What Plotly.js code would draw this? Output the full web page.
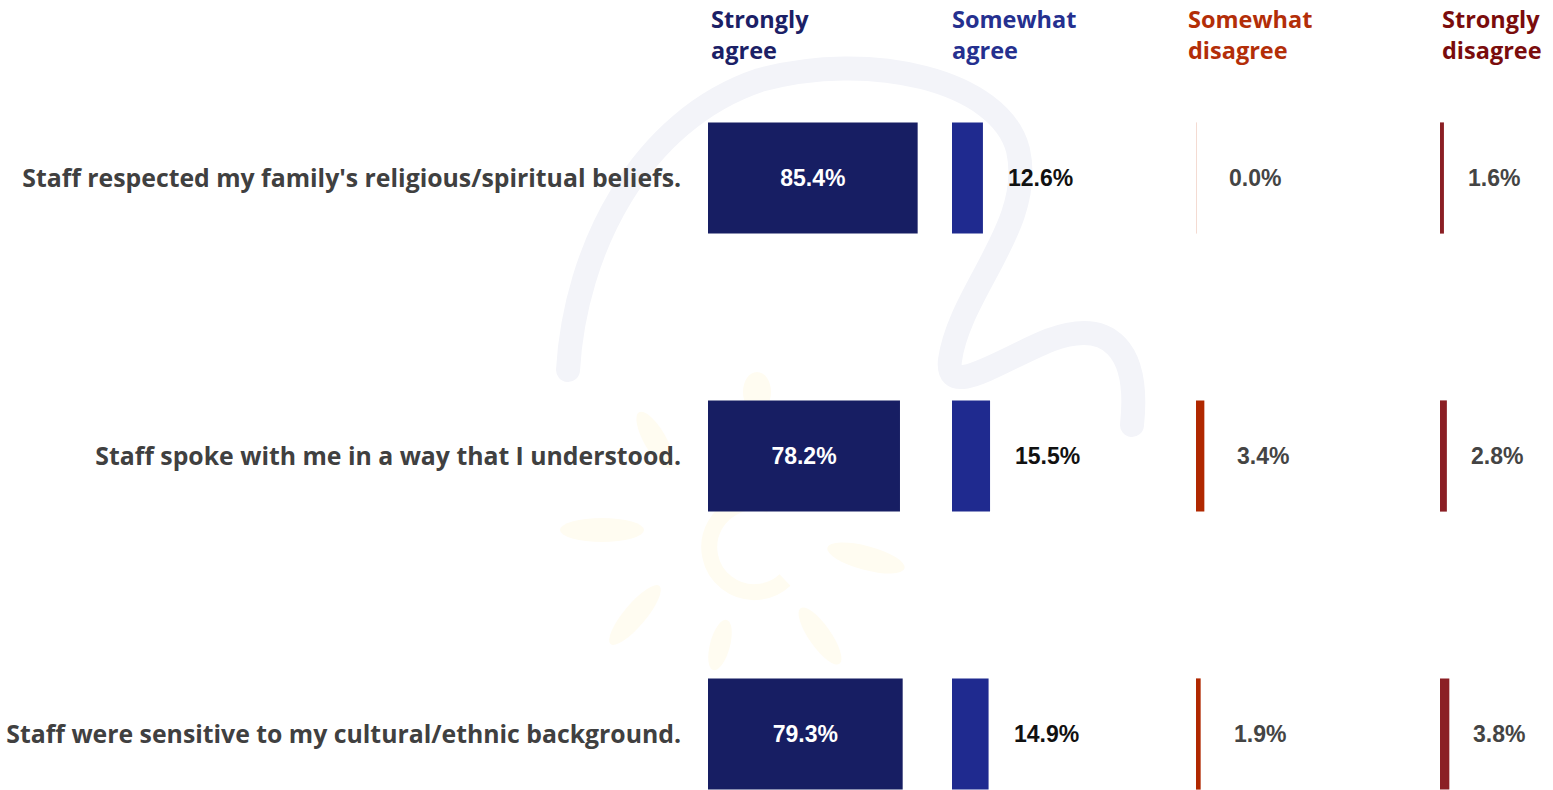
<!DOCTYPE html>
<html>
<head>
<meta charset="utf-8">
<script src="https://cdn.plot.ly/plotly-3.0.1.min.js"></script>
<style>html,body{margin:0;padding:0;background:#fff;}#chart{width:1553px;height:790px;}</style>
</head>
<body>
<div id="chart"></div>
<script>
// ---- data ----
const categories = [
  "Staff respected my family's religious/spiritual beliefs.",
  "Staff spoke with me in a way that I understood.",
  "Staff were sensitive to my cultural/ethnic background."
];
const responseLabels = ["Strongly<br>agree", "Somewhat<br>agree", "Somewhat<br>disagree", "Strongly<br>disagree"];
const stronglyAgree    = [85.4, 78.2, 79.3];
const somewhatAgree    = [12.6, 15.5, 14.9];
const somewhatDisagree = [0.0, 3.4, 1.9];
const stronglyDisagree = [1.6, 2.8, 3.8];

// ---- styling ----
const series = [stronglyAgree, somewhatAgree, somewhatDisagree, stronglyDisagree];
const barColors = ["#171e63", "#1f2a8f", "#b02800", "#8b1f24"];
const headColors = ["#1b2066", "#25308f", "#b32e08", "#7a0c0c"];
const labelColors = ["#ffffff", "#111111", "#444444", "#444444"];
const labelShift = [0, 23, 31, 22];
const headShift = [1, -2, -10, 0];

const W = 1553, H = 790, L = 708, T = 80;
const plotW = W - L, plotH = H - T;
const pxPerUnit = 2.455;
const colPx = 244;
const axNames = ["x", "x2", "x3", "x4"];
const valueFont = {family: "Liberation Sans, Arial, sans-serif", size: 23, weight: "bold"};

const traces = [];
const annotations = [];
const shapes = [];
const layout = {
  width: W, height: H,
  margin: {l: L, r: 0, t: T, b: 0, pad: 0},
  paper_bgcolor: "#ffffff", plot_bgcolor: "rgba(0,0,0,0)",
  showlegend: false,
  font: {family: "Liberation Sans, Arial, sans-serif"},
  yaxis: {
    type: "category", categoryorder: "array", categoryarray: categories,
    range: [2 + (H - 734) / 278, -(178 - T) / 278],
    showgrid: false, zeroline: false, showline: false,
    ticks: "outside", ticklen: 21, tickcolor: "rgba(0,0,0,0)",
    tickfont: {family: "Open Sans, Noto Sans, sans-serif", size: 24.8, color: "#404040", weight: "bold"},
    anchor: "x", fixedrange: true
  },
  annotations, shapes,
  images: []
};

series.forEach((vals, c) => {
  const ax = axNames[c];
  const x0 = c * colPx / plotW;
  const x1 = Math.min(1, (c + 1) * colPx / plotW);
  const key = c === 0 ? "xaxis" : "xaxis" + (c + 1);
  layout[key] = {
    domain: [x0, x1],
    range: [0, (x1 - x0) * plotW / pxPerUnit],
    showgrid: false, zeroline: false, showline: false, showticklabels: false, ticks: "",
    anchor: "y", fixedrange: true
  };
  traces.push({
    type: "bar", orientation: "h",
    x: vals, y: categories,
    xaxis: ax, yaxis: "y",
    width: 0.4,
    marker: {color: barColors[c], line: {width: 0}},
    text: c === 0 ? vals.map(v => v.toFixed(1) + "%") : undefined,
    textposition: c === 0 ? "inside" : "none",
    insidetextanchor: "middle",
    constraintext: "none",
    textfont: Object.assign({color: "#ffffff"}, valueFont),
    hoverinfo: "skip"
  });
  // column header
  annotations.push({
    xref: ax, yref: "paper", x: 0, y: 1 + (T - 34) / plotH,
    xanchor: "left", yanchor: "middle", xshift: headShift[c], align: "left",
    text: responseLabels[c], showarrow: false,
    font: {family: "Open Sans, Noto Sans, sans-serif", size: 23.5, color: headColors[c], weight: "bold"}
  });
  if (c > 0) {
    vals.forEach((v, i) => {
      annotations.push({
        xref: ax, yref: "y", x: v, y: categories[i],
        xanchor: "left", yanchor: "middle", xshift: labelShift[c],
        text: v.toFixed(1) + "%", showarrow: false,
        font: Object.assign({color: labelColors[c]}, valueFont)
      });
      if (v === 0) {
        shapes.push({
          type: "line", xref: ax, yref: "y",
          x0: v, x1: v, y0: i - 0.2, y1: i + 0.2,
          line: {color: "#e9b8a6", width: 1}
        });
      }
    });
  }
});

// faint watermark logo (decorative background)
const svg = `<svg xmlns="http://www.w3.org/2000/svg" width="${W}" height="${H}" viewBox="0 0 ${W} ${H}">
<g fill="none" stroke-linecap="round">
<path d="M568 370 C 575 250, 640 120, 760 80 C 870 50, 1000 80, 1018 150 C 1035 225, 960 290, 950 360 C 945 400, 1000 360, 1050 340 C 1110 318, 1140 350, 1132 425" stroke="#f3f4f9" stroke-width="24"/>
</g>
<g fill="#fffcf1">
<ellipse cx="757" cy="392" rx="14" ry="20"/>
<ellipse cx="655" cy="440" rx="11" ry="32" transform="rotate(-30 655 440)"/>
<ellipse cx="602" cy="530" rx="42" ry="12"/>
<ellipse cx="635" cy="615" rx="11" ry="38" transform="rotate(40 635 615)"/>
<ellipse cx="720" cy="645" rx="10" ry="26" transform="rotate(15 720 645)"/>
<ellipse cx="820" cy="636" rx="11" ry="34" transform="rotate(-35 820 636)"/>
<ellipse cx="866" cy="558" rx="40" ry="12" transform="rotate(15 866 558)"/>
</g>
<path d="M770 505 A 45 45 0 1 0 785 580" fill="none" stroke="#fffcf1" stroke-width="16"/>
</svg>`;
layout.images.push({
  source: "data:image/svg+xml;charset=utf-8," + encodeURIComponent(svg),
  xref: "paper", yref: "paper",
  x: -L / plotW, y: 1 + T / plotH,
  sizex: W / plotW, sizey: H / plotH,
  xanchor: "left", yanchor: "top", sizing: "stretch", layer: "below", opacity: 1
});

Plotly.newPlot("chart", traces, layout, {displayModeBar: false, staticPlot: true});
</script>
</body>
</html>
